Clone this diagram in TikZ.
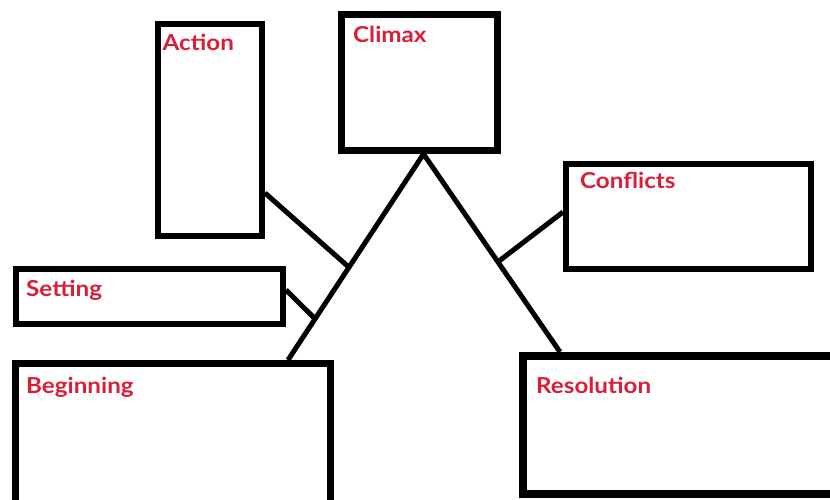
\documentclass[tikz,border=0pt]{standalone}
\usepackage{fontspec}
\setmainfont{Lato}[FakeStretch=1.1]
\usetikzlibrary{calc}
\definecolor{labelred}{RGB}{218,30,55}
\tikzset{
  box/.style={draw=black, rectangle, inner sep=0pt, fill=white},
  tag/.style={anchor=base west, inner sep=0pt, text=labelred,
    font=\fontsize{22}{26}\selectfont\bfseries},
  link/.style={draw=black, line width=5pt}
}
\begin{document}
\begin{tikzpicture}[x=1pt, y=-1pt]
\useasboundingbox (0,0) rectangle (830,500);
\begin{scope}
\clip (0,0) rectangle (830,500);
% story boxes
\node[box, line width=6pt, minimum width=104.5pt, minimum height=212pt] (action) at (209.75,130) {};
\node[box, line width=7pt, minimum width=156pt, minimum height=136pt] (climax) at (419.5,82.5) {};
\node[box, line width=6pt, minimum width=267pt, minimum height=55pt] (setting) at (149.5,296.5) {};
\node[box, line width=7pt, minimum width=315pt, minimum height=140pt] (beginning) at (173,433.5) {};
\node[box, line width=6pt, minimum width=245pt, minimum height=105pt] (conflicts) at (688.5,216.5) {};
\node[box, line width=8pt, minimum width=312pt, minimum height=138pt] (resolution) at (679,425) {};
% plot mountain
\coordinate (apex) at ($(climax.south)+(4,0)$);
\coordinate (legL) at ($(beginning.north west)+(276,0)$);
\coordinate (legR) at ($(resolution.north west)+(41,0)$);
\coordinate (jA) at ($(apex)!0.55!(legL)$);
\coordinate (jS) at ($(apex)!0.80!(legL)$);
\coordinate (jC) at ($(apex)!0.545!(legR)$);
\coordinate (aEnd) at ($(action.east)+(0,63)$);
\coordinate (sEnd) at ($(setting.east)+(0,-6.5)$);
\coordinate (cEnd) at ($(conflicts.west)+(0,-4.5)$);
\draw[link] (legL) -- (apex) -- (legR);
\draw[link] (aEnd) -- (jA);
\draw[link] (sEnd) -- (jS);
\draw[link] (cEnd) -- (jC);
% labels
\node[tag] (action-t) at ($(action.north west)+(8,30)$) {Action};
\node[tag] (climax-t) at ($(climax.north west)+(15,32)$) {Climax};
\node[tag] (setting-t) at ($(setting.north west)+(13,30)$) {Setting};
\node[tag] (beginning-t) at ($(beginning.north west)+(14,33)$) {Beginning};
\node[tag] (conflicts-t) at ($(conflicts.north west)+(17,28)$) {Conflicts};
\node[tag] (resolution-t) at ($(resolution.north west)+(17,41)$) {Resolution};
\end{scope}
\end{tikzpicture}
\end{document}
